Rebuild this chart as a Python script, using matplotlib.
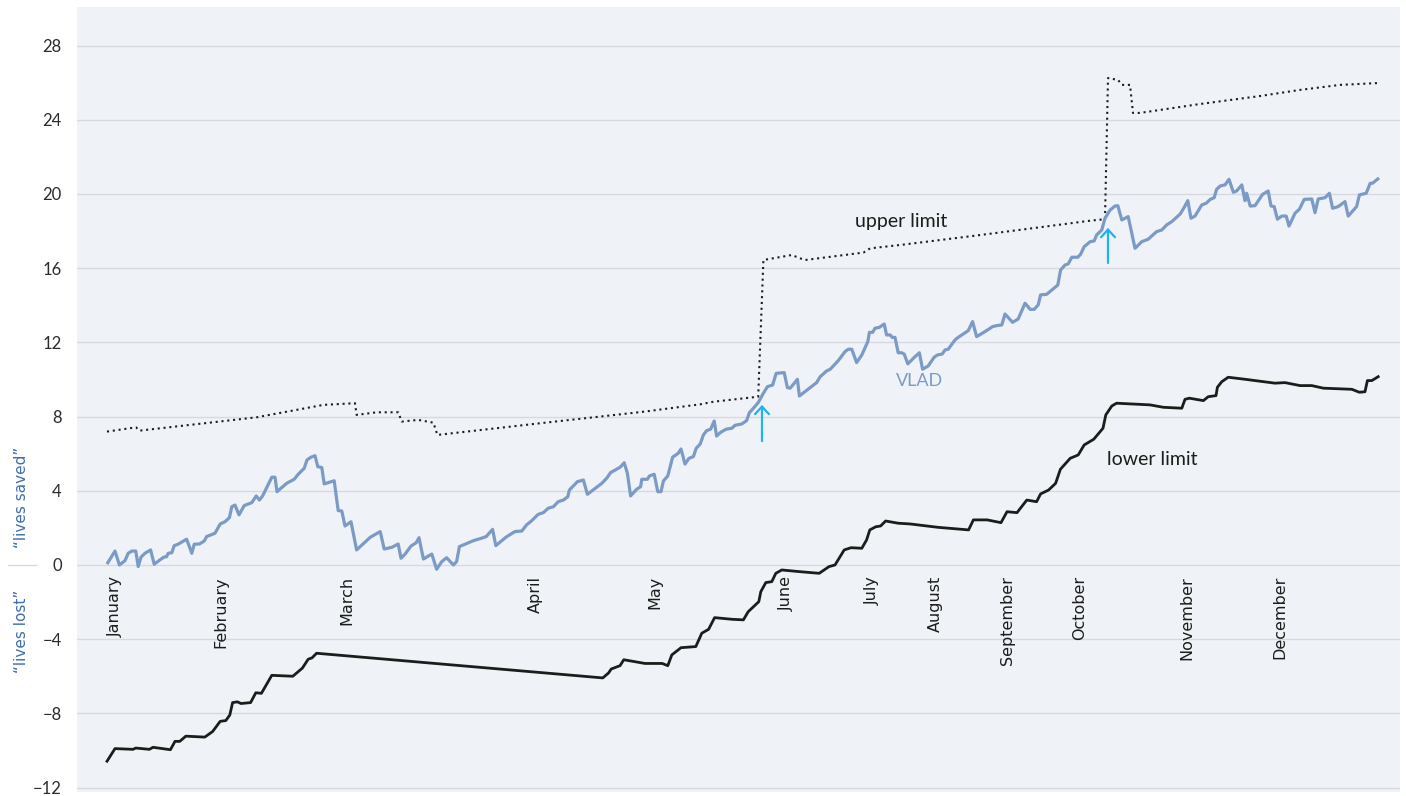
import numpy as np
import matplotlib.pyplot as plt
import matplotlib.transforms as mtransforms
from matplotlib import font_manager

# ---- series (case number, cumulative value) ----
vlad_x = [0.2, 2.0, 3.1, 4.5, 5.3, 6.2, 7.2, 7.8, 8.5, 9.5, 10.9, 11.8, 13.2, 14.2, 14.9,
          15.3, 16.2, 16.8, 17.8, 19.9, 21.2, 21.8, 23.1, 24.3, 24.9, 27.0, 28.3, 29.5,
          30.6, 31.2, 32.0, 33.0, 34.3, 36.2, 37.3, 38.1, 38.9, 41.2, 42.0, 42.5, 44.9,
          46.8, 47.8, 49.3, 50.0, 51.0, 52.0, 52.7, 53.7, 54.3, 56.8, 57.8, 58.7, 59.5,
          61.0, 62.4, 65.8, 68.3, 69.3, 71.2, 72.8, 73.5, 74.5, 76.0, 77.3, 78.0, 79.1,
          81.2, 82.4, 83.7, 84.9, 86.6, 87.4, 88.1, 89.5, 91.6, 93.3, 94.8, 96.4, 97.2,
          99.7, 101.0, 102.0, 103.7, 104.9, 106.2, 107.8, 109.1, 110.3, 111.6, 112.8,
          114.1, 115.2, 115.6, 117.6, 119.1, 120.1, 123.7, 124.9, 125.9, 127.4, 128.3,
          129.3, 130.1, 130.9, 132.4, 133.4, 133.7, 135.1, 135.6, 136.8, 137.7, 138.5,
          139.1, 140.2, 141.4, 142.8, 143.5, 144.5, 145.5, 146.6, 147.3, 148.3, 149.1,
          149.9, 150.9, 151.8, 152.4, 153.4, 154.8, 156.2, 157.0, 158.7, 159.9, 160.6,
          161.6, 162.8, 164.1, 165.1, 166.4, 167.3, 169.3, 170.1, 170.8, 172.6, 173.1,
          177.4, 178.3, 179.9, 180.8, 182.8, 184.5, 185.3, 186.2, 187.4, 188.7, 190.2,
          190.6, 191.4, 192.0, 193.1, 194.3, 194.9, 195.8, 196.3, 197.0, 197.8, 198.7,
          199.3, 200.2, 202.0, 203.1, 203.9, 205.3, 206.8, 207.6, 208.8, 209.5, 210.3,
          212.0, 212.8, 215.3, 216.4, 217.4, 219.5, 221.4, 222.4, 223.7, 224.5, 226.4,
          227.8, 229.5, 230.8, 231.8, 232.8, 233.4, 234.9, 236.2, 237.7, 238.4, 239.5,
          240.3, 241.2, 242.7, 243.4, 244.3, 245.8, 246.8, 247.4, 248.7, 249.5, 250.8,
          252.0, 252.7, 253.7, 255.3, 257.0, 258.7, 260.3, 262.4, 263.7, 264.9, 266.2,
          268.3, 269.3, 270.2, 271.0, 272.0, 273.7, 274.8, 275.8, 276.8, 277.4, 278.3,
          279.5, 280.5, 281.6, 282.4, 283.7, 284.5, 284.9, 285.8, 287.0, 288.9, 290.3,
          291.0, 291.8, 292.6, 293.7, 294.8, 295.5, 297.0, 298.1, 299.3, 301.2, 302.0,
          302.8, 304.5, 305.6, 306.4, 307.8, 309.5, 310.3, 312.4, 313.1, 314.8, 315.8,
          316.4, 317.7]
vlad_y = [0.12, 0.75, 0.0, 0.23, 0.63, 0.75, 0.75, -0.09, 0.42, 0.63, 0.81, 0.04, 0.27, 0.42,
          0.45, 0.63, 0.66, 1.04, 1.12, 1.39, 0.63, 1.12, 1.13, 1.29, 1.53, 1.71, 2.21,
          2.33, 2.55, 3.14, 3.23, 2.70, 3.20, 3.36, 3.72, 3.50, 3.72, 4.73, 4.73, 3.95,
          4.40, 4.62, 4.89, 5.21, 5.66, 5.81, 5.89, 5.30, 5.25, 4.37, 4.54, 2.93, 2.91,
          2.10, 2.33, 0.81, 1.49, 1.80, 0.86, 0.95, 1.13, 0.36, 0.58, 1.02, 1.20, 1.47,
          0.32, 0.59, -0.23, 0.18, 0.39, 0.0, 0.18, 0.99, 1.12, 1.31, 1.42, 1.53, 1.92,
          1.04, 1.49, 1.67, 1.80, 1.83, 2.16, 2.39, 2.73, 2.82, 3.06, 3.14, 3.41, 3.50,
          3.68, 4.04, 4.49, 4.58, 3.81, 4.40, 4.67, 4.98, 5.16, 5.27, 5.51, 4.94, 3.72,
          4.08, 4.22, 4.62, 4.62, 4.80, 4.89, 3.95, 3.95, 4.53, 4.80, 5.81, 6.02, 6.25,
          5.44, 5.75, 5.84, 6.29, 6.52, 7.01, 7.24, 7.32, 7.76, 6.95, 7.15, 7.32, 7.37,
          7.53, 7.60, 7.78, 8.21, 8.45, 8.75, 9.26, 9.61, 9.70, 10.33, 10.37, 9.56, 9.53,
          10.01, 9.11, 9.83, 10.15, 10.46, 10.55, 11.01, 11.50, 11.63, 11.63, 10.91,
          11.32, 12.04, 12.54, 12.54, 12.76, 12.81, 12.99, 12.40, 12.40, 12.27, 12.27,
          11.44, 11.44, 11.37, 10.84, 11.23, 11.44, 10.55, 10.73, 11.20, 11.32, 11.37,
          11.59, 11.63, 12.13, 12.27, 12.63, 13.12, 12.31, 12.58, 12.85, 12.90, 12.94,
          13.53, 13.08, 13.26, 14.11, 13.78, 13.78, 14.02, 14.56, 14.59, 14.82, 15.09,
          15.90, 16.17, 16.23, 16.59, 16.59, 16.75, 17.16, 17.43, 17.47, 17.79, 18.06,
          18.69, 19.14, 19.35, 19.37, 18.60, 18.78, 17.07, 17.43, 17.56, 17.97, 18.06,
          18.33, 18.51, 18.92, 19.28, 19.64, 18.69, 18.81, 19.41, 19.50, 19.71, 19.80,
          20.25, 20.43, 20.49, 20.79, 20.09, 20.16, 20.49, 19.64, 20.04, 19.35, 19.37,
          19.98, 20.16, 19.35, 19.32, 18.64, 18.81, 18.81, 18.27, 18.96, 19.18, 19.71,
          19.73, 18.99, 19.73, 19.80, 20.04, 19.23, 19.32, 19.59, 18.81, 19.32, 19.95,
          20.04, 20.58, 20.58, 20.81]

upper_x = [0.0, 7.25, 8.1, 37.4, 54.1, 62.0, 62.4, 67.4, 72.8, 73.7, 77.8, 81.6, 82.6,
           108.3, 134.1, 148.3, 151.6, 162.8, 164.1, 171.2, 173.3, 174.5, 189.1, 190.8,
           198.3, 216.6, 239.1, 245.8, 249.5, 250.25, 252.75, 253.75, 255.75, 256.5,
           258.25, 273.25, 288.25, 298.25, 308.25, 317.75]
upper_y = [7.19, 7.42, 7.24, 7.96, 8.63, 8.72, 8.09, 8.23, 8.23, 7.73, 7.82, 7.67, 7.01,
           7.64, 8.26, 8.66, 8.80, 9.07, 16.44, 16.71, 16.53, 16.44, 16.84, 17.07, 17.25,
           17.74, 18.37, 18.56, 18.64, 26.25, 26.15, 25.88, 25.88, 24.37, 24.37, 24.85,
           25.28, 25.61, 25.88, 25.98]

lower_x = [0.0, 2.0, 6.5, 7.2, 10.6, 11.5, 15.85, 17.0, 18.2, 19.7, 24.45, 26.4, 28.3,
           29.7, 30.7, 31.4, 32.6, 33.5, 35.9, 37.2, 38.6, 41.2, 46.45, 48.85, 50.3,
           51.25, 52.4, 123.95, 125.4, 126.05, 128.25, 129.2, 134.5, 138.8, 140.2, 141.2,
           143.5, 147.2, 148.7, 150.4, 151.9, 156.3, 159.1, 160.3, 162.95, 163.45, 164.7,
           166.2, 167.2, 168.7, 173.1, 178.05, 180.5, 182.0, 184.3, 186.0, 188.7, 189.9,
           190.7, 192.2, 193.4, 194.65, 197.8, 200.8, 207.7, 215.4, 216.6, 220.05, 223.5,
           225.0, 227.5, 229.95, 232.4, 233.4, 235.4, 237.15, 238.35, 240.8, 242.8, 244.3,
           246.7, 249.0, 249.7, 251.2, 252.4, 260.75, 264.1, 268.7, 269.5, 270.6, 274.1,
           275.3, 277.25, 277.6, 278.7, 280.3, 284.5, 292.0, 294.5, 298.25, 301.2, 304.1,
           311.2, 313.1, 314.5, 315.1, 316.2, 317.8]
lower_y = [-10.58, -9.90, -9.94, -9.87, -9.94, -9.83, -9.96, -9.51, -9.51, -9.23, -9.28,
           -8.98, -8.43, -8.39, -8.09, -7.42, -7.38, -7.47, -7.42, -6.89, -6.92, -5.95,
           -6.00, -5.56, -5.08, -5.01, -4.76, -6.09, -5.82, -5.61, -5.43, -5.11, -5.31,
           -5.31, -5.43, -4.85, -4.46, -4.40, -3.68, -3.47, -2.84, -2.93, -2.96, -2.52,
           -1.98, -1.44, -0.95, -0.90, -0.45, -0.27, -0.36, -0.45, -0.09, 0.0, 0.81, 0.93,
           0.90, 1.35, 1.89, 2.06, 2.10, 2.37, 2.25, 2.21, 2.03, 1.89, 2.43, 2.43, 2.28,
           2.87, 2.82, 3.50, 3.41, 3.83, 4.04, 4.40, 5.16, 5.75, 5.93, 6.47, 6.78, 7.37,
           8.09, 8.57, 8.72, 8.63, 8.50, 8.45, 8.93, 8.99, 8.86, 9.07, 9.13, 9.58, 9.88,
           10.12, 10.01, 9.80, 9.83, 9.67, 9.67, 9.53, 9.47, 9.31, 9.34, 9.94, 9.94, 10.15]

months = ["January", "February", "March", "April", "May", "June", "July", "August",
          "September", "October", "November", "December"]
month_pos = [2.0, 28.5, 60.0, 107.0, 137.0, 169.75, 191.25, 207.0, 225.0, 243.25, 270.0,
             293.25]

# cases where VLAD crosses the upper limit (arrow tail, arrow tip)
signal_x = [163.75, 250.25]
signal_tail = [6.68, 16.28]
signal_tip = [8.63, 18.17]

yticks = np.arange(-12, 29, 4)

# ---- fonts ----
installed = {f.name for f in font_manager.fontManager.ttflist}
narrow = "Liberation Sans Narrow" if "Liberation Sans Narrow" in installed else "DejaVu Sans"
plt.rcParams["font.family"] = ["Lato", "DejaVu Sans"]

VLAD_COL = "#7b9bc6"
DARK = "#1c1c1c"
GRID = "#d6dadf"

fig = plt.figure(figsize=(14.06, 7.96), dpi=100)
ax = fig.add_axes([77 / 1406, 4 / 796, 1323 / 1406, 785 / 796])
ax.set_facecolor("#eff3f7")

ax.plot(upper_x, upper_y, color=DARK, lw=1.5, linestyle=(0, (1, 1.8)), zorder=3)
ax.plot(lower_x, lower_y, color=DARK, lw=2.0, zorder=3, solid_joinstyle="round")
ax.plot(vlad_x, vlad_y, color=VLAD_COL, lw=2.3, zorder=4, solid_joinstyle="round")

for sx, t0, t1 in zip(signal_x, signal_tail, signal_tip):
    ax.annotate("", xy=(sx, t1), xytext=(sx, t0),
                arrowprops=dict(arrowstyle="->,head_length=0.55,head_width=0.5",
                                color="#1fb1f0", lw=1.6, shrinkA=0, shrinkB=0),
                zorder=5)

ax.text(198.5, 18.54, "upper limit", ha="center", va="center", fontsize=14, color=DARK)
ax.text(203.25, 9.92, "VLAD", ha="center", va="center", fontsize=13, color=VLAD_COL)
ax.text(261.25, 5.66, "lower limit", ha="center", va="center", fontsize=14, color=DARK)

for m, p in zip(months, month_pos):
    ax.text(p, -0.6, m, rotation=90, ha="center", va="top", fontsize=11.5,
            family=narrow, color=DARK)

ax.set_xlim(-7.5, 323.25)
ax.set_ylim(-12.24, 30.08)
ax.set_yticks(yticks)
ax.set_yticklabels([f"{t}".replace("-", "\u2212") for t in yticks])
ax.tick_params(axis="y", length=0, pad=11, labelsize=12, labelcolor="#2b2b2b")
ax.set_xticks([])
ax.grid(axis="y", color=GRID, lw=1)
ax.set_axisbelow(True)
for s in ax.spines.values():
    s.set_visible(False)

# side labels either side of zero
trans = mtransforms.blended_transform_factory(fig.transFigure, ax.transData)
ax.text(22 / 1406, 3.67, "\u201clives saved\u201d", transform=trans, rotation=90,
        ha="center", va="center", fontsize=11, family=narrow, color="#3f6fab", clip_on=False)
ax.text(22 / 1406, -3.56, "\u201clives lost\u201d", transform=trans, rotation=90,
        ha="center", va="center", fontsize=11, family=narrow, color="#3f6fab", clip_on=False)
ax.plot([8 / 1406, 36 / 1406], [0, 0], transform=trans, color=GRID, lw=1, clip_on=False)

fig.savefig("out.png", dpi=100)
